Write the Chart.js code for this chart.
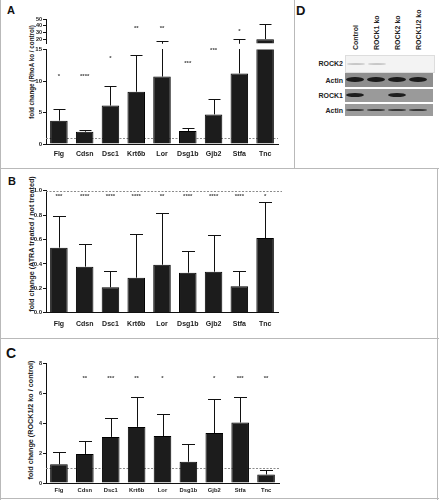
<!DOCTYPE html>
<html><head><meta charset="utf-8">
<script src="https://cdn.jsdelivr.net/npm/chart.js@4.4.1/dist/chart.umd.min.js"></script>
<style>
html,body{margin:0;padding:0;background:#fff;}
#fig{position:relative;width:439px;height:500px;overflow:hidden;font-family:"Liberation Sans",Arial,sans-serif;background:#fff;}
canvas.cv{position:absolute;left:0;}
.ln{position:absolute;background:#b9b9b9;}
.letter{position:absolute;font-weight:bold;color:#111;line-height:1;}
.ytitle{position:absolute;font-weight:bold;color:#222;white-space:nowrap;line-height:1;transform:translate(-50%,-50%) rotate(-90deg);}
.lane{position:absolute;font-weight:bold;color:#222;white-space:nowrap;font-size:7px;line-height:1;transform-origin:0 0;transform:rotate(-90deg);}
.rowlab{position:absolute;font-weight:bold;color:#222;font-size:7px;line-height:1;text-align:right;width:40px;}
.blot{position:absolute;overflow:hidden;}
.band{position:absolute;border-radius:50%;filter:blur(0.6px);}
</style>
</head><body>
<div id="fig">
  <div class="ln" style="left:0;top:0;width:1px;height:500px"></div>
  <div class="ln" style="left:294px;top:0;width:1px;height:168px"></div>
  <div class="ln" style="left:0;top:168px;width:439px;height:1px"></div>
  <div class="ln" style="left:0;top:338px;width:439px;height:1px"></div>
  <div class="ln" style="left:437px;top:168px;width:1px;height:332px"></div>
  <div class="ln" style="left:0;top:498px;width:439px;height:1px"></div>

  <div class="letter" style="left:7px;top:5px;font-size:11px">A</div>
  <div class="letter" style="left:8px;top:176px;font-size:11px">B</div>
  <div class="letter" style="left:6px;top:346px;font-size:14px">C</div>
  <div class="letter" style="left:296px;top:4px;font-size:13px">D</div>

  <div class="ytitle" style="left:32px;top:72px;font-size:6.3px">fold change (RhoA ko / control)</div>
  <div class="ytitle" style="left:32px;top:243.5px;font-size:7.2px">fold change (ATRA treated / not treated)</div>
  <div class="ytitle" style="left:30.5px;top:420px;font-size:7.2px">fold change (ROCK1/2 ko / control)</div>

  <canvas class="cv" id="aTop" width="292" height="40" style="top:10px;width:292px;height:40px"></canvas>
  <canvas class="cv" id="aBot" width="292" height="125" style="top:40px;width:292px;height:125px"></canvas>
  <canvas class="cv" id="bChart" width="292" height="157" style="top:178px;width:292px;height:157px"></canvas>
  <canvas class="cv" id="cChart" width="292" height="148" style="top:350px;width:292px;height:148px"></canvas>
  <div id="blotArea"></div>
</div>
<script>
// ---------------- data ----------------
const categories = ['Flg','Cdsn','Dsc1','Krt6b','Lor','Dsg1b','Gjb2','Stfa','Tnc'];

// Panel A: RhoA ko / control
const rhoaMean  = [3.7, 1.95, 6.1, 8.3, 10.7, 2.05, 4.7, 11.2, 21];
const rhoaUpper = [5.5, 2.2, 9.25, 14.2, 18, 2.5, 7.2, 21, 42.5];
const rhoaStars = ['*','****','*','**','**','***','***','*',''];
const rhoaStarPos = [11, 11, 13.9, 39, 39, 13, 15.2, 35, 0];
const rhoaLowTicks = [0, 5, 10, 15];
const rhoaHighTicks = [20, 30, 40, 50];

// Panel B: ATRA treated / not treated
const atraMean  = [0.533, 0.377, 0.208, 0.287, 0.393, 0.328, 0.336, 0.216, 0.612];
const atraUpper = [0.795, 0.56, 0.342, 0.643, 0.815, 0.508, 0.639, 0.342, 0.91];
const atraStars = ['***','****','****','****','**','****','****','****','*'];
const atraStarPos = [0.965, 0.965, 0.965, 0.965, 0.965, 0.965, 0.965, 0.965, 0.965];
const atraTicks = [0, 0.2, 0.4, 0.6, 0.8, 1.0];

// Panel C: ROCK1/2 ko / control
const rockMean  = [1.25, 1.94, 3.08, 3.75, 3.14, 1.42, 3.34, 4.04, 0.57];
const rockUpper = [2.05, 2.78, 4.35, 5.77, 4.58, 2.6, 5.62, 5.72, 0.88];
const rockStars = ['','**','***','**','*','','*','***','**'];
const rockStarPos = [7.1, 7.1, 7.1, 7.1, 7.1, 7.1, 7.1, 7.1, 7.1];
const rockTicks = [0, 2, 4, 6, 8];

// Panel D: western blot
const blotLanes = ['Control','ROCK1 ko','ROCK2 ko','ROCK1/2 ko'];
const blotRows  = ['ROCK2','Actin','ROCK1','Actin'];
const blotBands = [[0.35,0.35,0,0],[1,1,1,1],[1,0,1,0],[0.85,0.85,0.85,0.85]];

// ---------------- chart helpers ----------------
const FONT = "'Liberation Sans', Arial, sans-serif";
Chart.defaults.font.family = FONT;
Chart.defaults.color = '#222';

const extras = {
  id: 'extras',
  beforeDatasetsDraw(chart, args, o) {
    if (o.ref == null) return;
    const y = chart.scales.y, ca = chart.chartArea, ctx = chart.ctx;
    const py = Math.round(y.getPixelForValue(o.ref)) + 0.5;
    if (py < ca.top - 1 || py > ca.bottom + 1) return;
    ctx.save();
    ctx.strokeStyle = '#8a8a8a'; ctx.lineWidth = 1; ctx.setLineDash([2, 1.5]);
    ctx.beginPath(); ctx.moveTo(ca.left, py); ctx.lineTo(ca.right + (o.refExt || 0), py); ctx.stroke();
    ctx.restore();
  },
  afterDatasetsDraw(chart, args, o) {
    const ctx = chart.ctx, y = chart.scales.y, ca = chart.chartArea;
    const meta = chart.getDatasetMeta(0);
    ctx.save();
    ctx.beginPath(); ctx.rect(ca.left, ca.top - 0.5, ca.right - ca.left, ca.bottom - ca.top + 1); ctx.clip();
    ctx.strokeStyle = '#111'; ctx.lineWidth = 1;
    o.upper.forEach((u, i) => {
      const cx = Math.round(meta.data[i].x) + 0.5;
      const y0 = y.getPixelForValue(o.mean[i]);
      const y1 = Math.round(y.getPixelForValue(u)) + 0.5;
      ctx.beginPath();
      ctx.moveTo(cx, y0); ctx.lineTo(cx, y1);
      ctx.moveTo(cx - o.cap, y1); ctx.lineTo(cx + o.cap, y1);
      ctx.stroke();
    });
    ctx.restore();
    ctx.save();
    ctx.fillStyle = '#444';
    ctx.font = 'bold ' + o.starSize + 'px ' + FONT;
    ctx.textAlign = 'center'; ctx.textBaseline = 'alphabetic';
    o.stars.forEach((s, i) => {
      if (!s) return;
      const v = o.starPos[i];
      if (v < o.starMin || v > o.starMax) return;
      const py = y.getPixelForValue(v) + 0.55 * o.starSize;
      ctx.fillText(s, meta.data[i].x, py);
    });
    ctx.restore();
  }
};

function barChart(id, c) {
  return new Chart(document.getElementById(id), {
    type: 'bar',
    data: {
      labels: categories,
      datasets: [{
        data: c.mean,
        backgroundColor: '#1c1c1c',
        borderColor: '#000',
        borderWidth: 1,
        barPercentage: 0.68,
        categoryPercentage: 1.0,
        clip: 0
      }]
    },
    options: {
      responsive: false,
      animation: false,
      layout: { padding: c.pad },
      plugins: {
        legend: { display: false },
        tooltip: { enabled: false },
        extras: {
          mean: c.mean, upper: c.upper, stars: c.stars, starPos: c.starPos,
          starMin: c.starMin, starMax: c.starMax, starSize: c.starSize,
          cap: c.cap, ref: c.ref, refExt: c.refExt
        }
      },
      scales: {
        x: {
          display: c.showX,
          offset: true,
          afterFit: s => { s.height = c.xH; },
          grid: { display: false, drawTicks: false },
          border: { display: true, color: '#111', width: 1 },
          ticks: { font: { size: c.xFont, weight: 'bold' }, color: '#1a1a1a', padding: c.xPad, maxRotation: 0, autoSkip: false }
        },
        y: {
          min: c.min, max: c.max,
          afterBuildTicks: s => { s.ticks = c.ticks.map(v => ({ value: v })); },
          afterFit: s => { s.width = 46; },
          grid: { drawOnChartArea: false, tickLength: 3, color: '#111' },
          border: { color: '#111' },
          ticks: { font: { size: c.yFont, weight: 'bold' }, color: '#1a1a1a', padding: 1, autoSkip: false, callback: c.fmt || (v => v) }
        }
      }
    },
    plugins: [extras]
  });
}

// Panel A: broken y axis -> upper segment (15-50) and lower segment (0-15)
barChart('aTop', {
  mean: rhoaMean, upper: rhoaUpper, stars: rhoaStars, starPos: rhoaStarPos,
  starMin: 15.5, starMax: 60, starSize: 6, cap: 6,
  min: 15, max: 50, ticks: rhoaHighTicks, showX: false, xH: 0,
  pad: { top: 9, right: 14, bottom: 6.7, left: 0 }, yFont: 5.5, xFont: 7, xPad: 6
});
barChart('aBot', {
  mean: rhoaMean, upper: rhoaUpper, stars: rhoaStars, starPos: rhoaStarPos,
  starMin: -1, starMax: 15.5, starSize: 6, cap: 6, ref: 1, refExt: 0,
  min: 0, max: 15, ticks: rhoaLowTicks, showX: true, xH: 21,
  pad: { top: 9.5, right: 14, bottom: 0, left: 0 }, yFont: 6, xFont: 7, xPad: 6
});
barChart('bChart', {
  mean: atraMean, upper: atraUpper, stars: atraStars, starPos: atraStarPos,
  starMin: -1, starMax: 2, starSize: 6, cap: 6.5, ref: 1, refExt: 4,
  min: 0, max: 1, ticks: atraTicks, showX: true, xH: 22.3,
  pad: { top: 12.7, right: 14, bottom: 0, left: 0 }, yFont: 6, xFont: 7, xPad: 7,
  fmt: v => Number(v).toFixed(1)
});
barChart('cChart', {
  mean: rockMean, upper: rockUpper, stars: rockStars, starPos: rockStarPos,
  starMin: -1, starMax: 9, starSize: 6, cap: 6.5, ref: 1, refExt: 0,
  min: 0, max: 8, ticks: rockTicks, showX: true, xH: 15,
  pad: { top: 13.3, right: 13, bottom: 0, left: 0 }, yFont: 5.5, xFont: 5.8, xPad: 4
});

// Panel D: blot (drawn with HTML)
(function () {
  const area = document.getElementById('blotArea');
  const laneX = [355, 376, 397, 418];
  const rows = [
    { top: 55, h: 16, bg: '#f3f3f3', bandH: 2, col: '#777', ly: 63 },
    { top: 73, h: 13.5, bg: '#8e8e8e', bandH: 5, col: '#1b1b1b', ly: 80 },
    { top: 89, h: 12.5, bg: '#9a9a9a', bandH: 4, col: '#1e1e1e', ly: 95 },
    { top: 104, h: 11.5, bg: '#9b9b9b', bandH: 2.5, col: '#262626', ly: 110 }
  ];
  blotLanes.forEach((t, i) => {
    const d = document.createElement('div');
    d.className = 'lane';
    d.textContent = t;
    d.style.left = (laneX[i] - 3.5) + 'px';
    d.style.top = '50px';
    area.appendChild(d);
  });
  rows.forEach((r, ri) => {
    const lab = document.createElement('div');
    lab.className = 'rowlab';
    lab.textContent = blotRows[ri];
    lab.style.left = '303px';
    lab.style.top = (r.ly - 3.5) + 'px';
    area.appendChild(lab);
    const b = document.createElement('div');
    b.className = 'blot';
    b.style.left = '345px'; b.style.top = r.top + 'px';
    b.style.width = '88px'; b.style.height = r.h + 'px';
    b.style.background = r.bg;
    if (ri === 0) b.style.border = '1px solid #ddd';
    area.appendChild(b);
    blotBands[ri].forEach((s, li) => {
      if (!s) return;
      const band = document.createElement('div');
      band.className = 'band';
      band.style.left = (laneX[li] - 345 - 9) + 'px';
      band.style.width = '18px';
      band.style.top = (r.h / 2 - r.bandH / 2) + 'px';
      band.style.height = r.bandH + 'px';
      band.style.background = r.col;
      band.style.opacity = s;
      b.appendChild(band);
    });
  });
})();
</script>
</body></html>
